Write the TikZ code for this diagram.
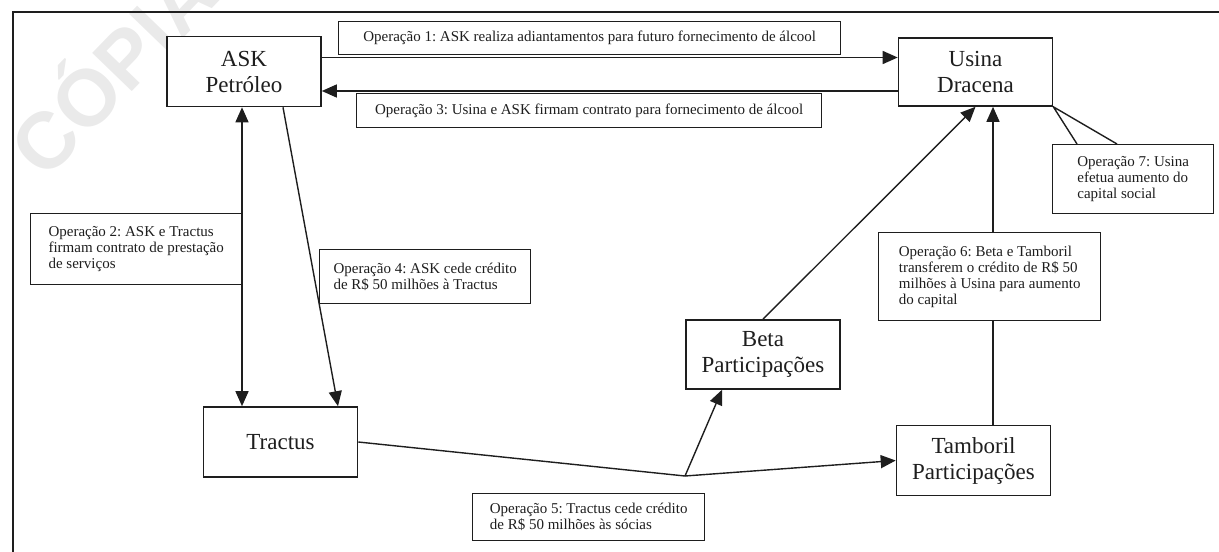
\documentclass[tikz,border=0pt]{standalone}
\usepackage{fontspec}
\setmainfont{Liberation Serif}
\newfontfamily\stampfont{Liberation Sans}
\usetikzlibrary{arrows.meta}
\definecolor{ink}{HTML}{1E1E1E}
\definecolor{stampGray}{HTML}{EAEAEA}
\frenchspacing

\begin{document}
\begin{tikzpicture}[
  x=0.5pt, y=-0.5pt,
  >={Triangle[length=7.5pt,width=6.5pt]},
  party/.style={draw=ink, line width=0.8pt, fill=white, align=center, inner sep=0pt,
                minimum width=77pt, minimum height=35pt, text=ink,
                font=\fontsize{11.5}{13}\selectfont},
  note/.style={draw=ink, line width=0.7pt, fill=white, align=left, anchor=north west,
               inner sep=0pt, text=ink, font=\fontsize{7.5}{8}\selectfont},
  flow/.style={->, line width=0.7pt, color=ink},
  both/.style={<->, line width=0.7pt, color=ink},
  plain/.style={line width=0.7pt, color=ink}
]
\useasboundingbox (0,0) rectangle (1219,551);
\clip (0,0) rectangle (1219,551);

% scan stamp and page frame
\node[text=stampGray, rotate=46, font=\stampfont\bfseries\fontsize{40}{40}\selectfont] (stamp) at (108,66) {CÓPIA};
\draw[line width=0.6pt, color=ink] (13,12) rectangle (1260,600);

% companies
\node[party] (ask) at (244,71.5) {ASK\\Petróleo};
\node[party, minimum height=34pt] (usina) at (975.5,72) {Usina\\Dracena};
\node[party] (tractus) at (280.5,442) {Tractus};
\node[party, minimum height=34.5pt] (beta) at (763,354.5) {Beta\\Participações};
\node[party] (tamboril) at (973.5,460.5) {Tamboril\\Participações};

% operations
\draw[flow] ([yshift=7pt]ask.east) -- ([yshift=7pt]ask.east -| usina.west);
\draw[flow] ([yshift=-9.75pt]ask.east -| usina.west) -- ([yshift=-9.75pt]ask.east);
\draw[both] ([xshift=-1pt]ask.south) -- ([xshift=-1pt]ask.south |- tractus.north);
\draw[flow] ([xshift=19.5pt]ask.south) -- ([xshift=28.75pt]tractus.north);
\coordinate (split) at (685,476);
\draw[plain] (tractus.east) -- (split);
\draw[flow] (split) -- (tamboril.west);
\draw[flow] (split) -- ([xshift=-20.5pt]beta.south);
\draw[flow] (beta.north) -- (usina.south);
\draw[flow] ([xshift=9.75pt]tamboril.north) -- ([xshift=9.75pt]tamboril.north |- usina.south);

% labels
\node[note, minimum width=251pt, minimum height=16.5pt] (op1) at (338,21)
  {Operação 1: ASK realiza adiantamentos para futuro fornecimento de álcool};
\node[note, minimum width=232.5pt, minimum height=17pt] (op3) at (356,93)
  {Operação 3: Usina e ASK firmam contrato para fornecimento de álcool};
\node[note, minimum width=105.5pt, minimum height=35.5pt] (op2) at (30,213)
  {Operação 2: ASK e Tractus\\firmam contrato de prestação\\de serviços};
\node[note, minimum width=105.5pt, minimum height=27pt] (op4) at (319,249)
  {Operação 4: ASK cede crédito\\de R\$ 50 milhões à Tractus};
\node[note, minimum width=116pt, minimum height=23.5pt] (op5) at (472,493)
  {Operação 5: Tractus cede crédito\\de R\$ 50 milhões às sócias};
\node[note, minimum width=111pt, minimum height=44pt] (op6) at (878,232)
  {Operação 6: Beta e Tamboril\\transferem o crédito de R\$ 50\\milhões à Usina para aumento\\do capital};
\node[note, minimum width=80.5pt, minimum height=34.5pt] (op7) at (1052,144)
  {Operação 7: Usina\\efetua aumento do\\capital social};
\draw[plain] ([xshift=12.5pt]op7.north west) -- (usina.south east) -- ([xshift=32.5pt]op7.north west);

\end{tikzpicture}
\end{document}
